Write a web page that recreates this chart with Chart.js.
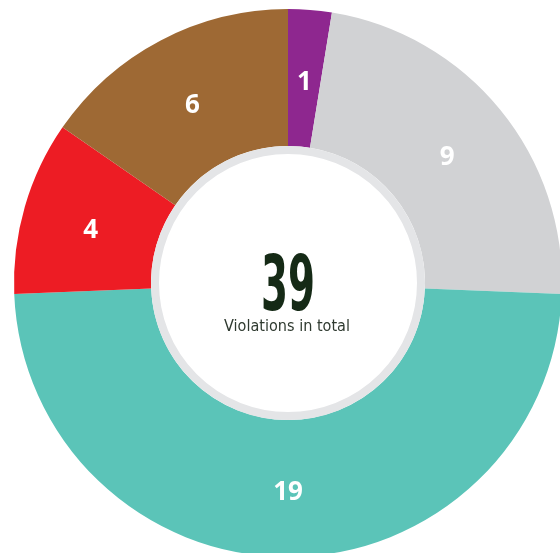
<!DOCTYPE html>
<html>
<head>
<meta charset="utf-8">
<script src="https://cdn.jsdelivr.net/npm/chart.js@4/dist/chart.umd.min.js"></script>
<style>
html,body{margin:0;padding:0;background:#fff;overflow:hidden;}
#wrap{position:relative;width:560px;height:553px;overflow:hidden;}
#c{position:absolute;left:0;top:0;}
</style>
</head>
<body>
<div id="wrap"><canvas id="c" width="576" height="566" style="width:576px;height:566px"></canvas></div>
<script>
const categories = ["Category A", "Category B", "Category C", "Category D", "Category E"];
const values = [1, 9, 19, 4, 6];
const colors = ["#8e278f", "#d1d2d4", "#5bc4b8", "#ed1c24", "#9e6934"];
const totalLabel = "Violations in total";

const centerPlugin = {
  id: 'centerText',
  afterDatasetsDraw(chart) {
    const ctx = chart.ctx;
    const meta = chart.getDatasetMeta(0);
    const arc0 = meta.data[0];
    const cx = arc0.x, cy = arc0.y;
    const inner = arc0.innerRadius;
    // gray ring inside
    ctx.save();
    ctx.beginPath();
    ctx.arc(cx, cy, inner - 4, 0, Math.PI * 2);
    ctx.lineWidth = 8;
    ctx.strokeStyle = "#e4e5e7";
    ctx.stroke();
    ctx.restore();

    // segment labels
    ctx.save();
    ctx.fillStyle = "#ffffff";
    const fs = 26;
    ctx.font = "bold " + fs + "px 'Open Sans', 'DejaVu Sans', sans-serif";
    ctx.textAlign = "center";
    ctx.textBaseline = "alphabetic";
    const capH = fs * 0.714;
    meta.data.forEach((a, i) => {
      const p = a.tooltipPosition();
      ctx.fillText(String(chart.data.datasets[0].data[i]), p.x, p.y + capH / 2 + 2.5);
    });
    ctx.restore();

    // center total
    const total = chart.data.datasets[0].data.reduce((s, v) => s + v, 0);
    ctx.save();
    ctx.fillStyle = "#152a16";
    ctx.font = "bold 76px 'DejaVu Sans Condensed', 'DejaVu Sans', sans-serif";
    ctx.textAlign = "center";
    ctx.textBaseline = "alphabetic";
    const w = ctx.measureText(String(total)).width;
    const sx = 54 / w;
    ctx.translate(cx, cy + 27);
    ctx.scale(sx, 1);
    ctx.fillText(String(total), 0, 0);
    ctx.restore();

    ctx.save();
    ctx.fillStyle = "#2f3a30";
    ctx.font = "15px 'DejaVu Sans Condensed', 'DejaVu Sans', sans-serif";
    ctx.textAlign = "center";
    ctx.textBaseline = "middle";
    const w2 = ctx.measureText(totalLabel).width;
    ctx.translate(cx - 1, cy + 44);
    ctx.scale(126 / w2, 1);
    ctx.fillText(totalLabel, 0, 0);
    ctx.restore();
  }
};

new Chart(document.getElementById('c'), {
  type: 'doughnut',
  data: {
    labels: categories,
    datasets: [{
      data: values,
      backgroundColor: colors,
      borderWidth: 0,
      hoverOffset: 0
    }]
  },
  options: {
    responsive: false,
    animation: false,
    cutout: '50%',
    layout: { padding: { left: 14, right: 14, top: 9, bottom: 9 } },
    plugins: {
      legend: { display: false },
      tooltip: { enabled: false }
    },
    events: []
  },
  plugins: [centerPlugin]
});
</script>
</body>
</html>
